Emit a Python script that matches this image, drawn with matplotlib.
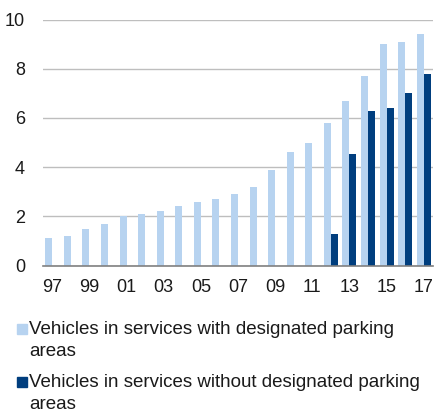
import numpy as np
import matplotlib

matplotlib.use("Agg")
import matplotlib.pyplot as plt
from matplotlib.patches import Rectangle

plt.rcParams["font.family"] = ["Liberation Sans", "DejaVu Sans"]

# data
YEARS = ["97", "98", "99", "00", "01", "02", "03", "04", "05", "06", "07",
         "08", "09", "10", "11", "12", "13", "14", "15", "16", "17"]
WITH_AREAS = [1.1, 1.2, 1.5, 1.7, 2.0, 2.1, 2.2, 2.4, 2.6, 2.7, 2.9,
              3.2, 3.9, 4.6, 5.0, 5.8, 6.7, 7.7, 9.0, 9.1, 9.4]
WITHOUT_YEARS = ["12", "13", "14", "15", "16", "17"]
WITHOUT_AREAS = [1.3, 4.55, 6.3, 6.4, 7.0, 7.8]
LABELS = ["Vehicles in services with designated parking\nareas",
          "Vehicles in services without designated parking\nareas"]

LIGHT = "#B7D3F0"
DARK = "#003E7E"
TXT = "#1A1A1A"
BAR_W = 0.38

fig = plt.figure(figsize=(4.35, 4.09), dpi=100)
ax = fig.add_axes([43 / 435, 1 - 265.5 / 409, 390 / 435, 246 / 409])

x = np.arange(len(YEARS))
ax.bar(x - BAR_W / 2, WITH_AREAS, width=BAR_W, color=LIGHT, zorder=2)
xd = np.array([YEARS.index(y) for y in WITHOUT_YEARS])
ax.bar(xd + BAR_W / 2, WITHOUT_AREAS, width=BAR_W, color=DARK, zorder=2)

ax.set_xlim(-0.5, len(YEARS) - 0.5)
ax.set_ylim(0, 10)
ax.set_yticks(range(0, 11, 2))
ax.set_xticks(x[::2])
ax.set_xticklabels(YEARS[::2])
ax.grid(axis="y", color="#BEBEBE", linewidth=1, zorder=0)
ax.set_axisbelow(True)
for s in ["top", "right", "left"]:
    ax.spines[s].set_visible(False)
ax.spines["bottom"].set_color("#808080")
ax.spines["bottom"].set_linewidth(1.2)
ax.tick_params(axis="both", length=0, labelsize=13, colors=TXT)
ax.tick_params(axis="x", pad=10)
ax.tick_params(axis="y", pad=13)

# legend drawn below the plot
for i, (lab, col) in enumerate(zip(LABELS, [LIGHT, DARK])):
    top = 324 + i * 53
    fig.patches.append(Rectangle((17 / 435, 1 - (top + 10) / 409), 10 / 435, 10 / 409,
                                 transform=fig.transFigure, color=col, figure=fig))
    fig.text(29 / 435, 1 - (top - 3) / 409, lab, fontsize=13.5, color=TXT,
             va="top", ha="left", linespacing=1.38)

fig.savefig("out.png", dpi=100)
